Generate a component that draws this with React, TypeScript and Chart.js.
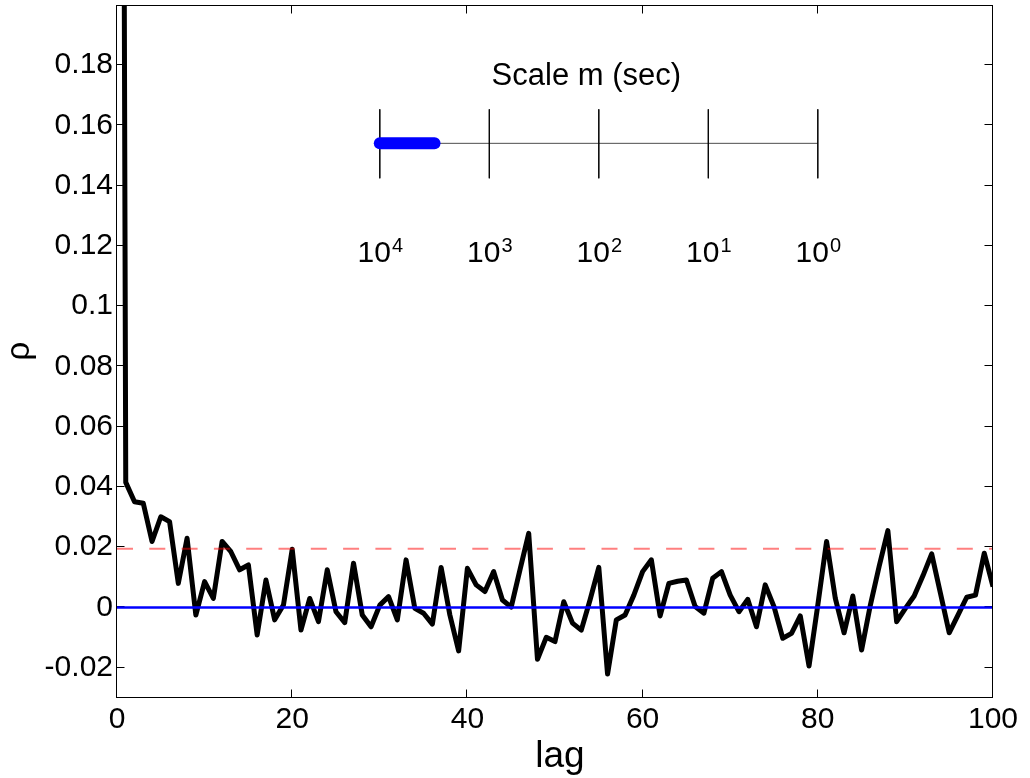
import React, { useEffect, useRef } from "react";
import { Chart, registerables } from "chart.js";

Chart.register(...registerables);

// ---------------- data ----------------
const lags = [
  0, 1, 2, 3, 4, 5, 6, 7, 8, 9, 10, 11, 12, 13, 14, 15, 16, 17, 18, 19, 20,
  21, 22, 23, 24, 25, 26, 27, 28, 29, 30, 31, 32, 33, 34, 35, 36, 37, 38, 39, 40,
  41, 42, 43, 44, 45, 46, 47, 48, 49, 50, 51, 52, 53, 54, 55, 56, 57, 58, 59, 60,
  61, 62, 63, 64, 65, 66, 67, 68, 69, 70, 71, 72, 73, 74, 75, 76, 77, 78, 79, 80,
  81, 82, 83, 84, 85, 86, 87, 88, 89, 90, 91, 92, 93, 94, 95, 96, 97, 98, 99, 100,
];

const rho = [
  1.0, 0.0415, 0.0351, 0.0346, 0.0219, 0.0301, 0.0285, 0.008, 0.023, -0.0025, 0.0086,
  0.003, 0.0219, 0.0185, 0.0125, 0.0141, -0.0091, 0.0091, -0.0041, 0.0008, 0.0193,
  -0.0075, 0.003, -0.0047, 0.0125, -0.0014, -0.005, 0.0147, -0.0025, -0.0064, 0.0008,
  0.0036, -0.0041, 0.0158, -0.0003, -0.0019, -0.0055, 0.0133, -0.0025, -0.0144, 0.013,
  0.0075, 0.0053, 0.0119, 0.0025, 0.0001, 0.0125, 0.0246, -0.0172, -0.0099, -0.0113,
  0.0019, -0.0052, -0.0075, 0.0025, 0.0133, -0.0221, -0.0041, -0.0025, 0.0041, 0.0119,
  0.0158, -0.0028, 0.008, 0.0087, 0.0091, 0.0003, -0.0019, 0.0097, 0.0119, 0.0041,
  -0.0014, 0.0027, -0.0064, 0.0075, 0.0003, -0.0102, -0.0086, -0.0028, -0.0194, 0.0008,
  0.0219, 0.003, -0.0084, 0.0038, -0.0141, 0.0008, 0.0136, 0.0255, -0.0047, -0.0003,
  0.0038, 0.0105, 0.0178, 0.0047, -0.0084, -0.0025, 0.0034, 0.0041, 0.018, 0.0069,
];

const confidenceBound = 0.0195;
const zeroLevel = 0;

const xRange = [0, 100];
const yRange = [-0.0297, 0.1999];
const xTickStep = 20;
const yTickStep = 0.02;

// inset: time scale m (seconds), decades shown and highlighted span
const insetDecades = [4, 3, 2, 1, 0];
const insetHighlight = [10000, 3162];
const insetTitle = "Scale m (sec)";
const insetTitleAt = 130;

const xTitle = "lag";
const yTitle = "ρ";

// ---------------- layout / style ----------------
const W = 1030;
const H = 778;
const FONT = '"Liberation Sans", Arial, Helvetica, sans-serif';
const INSET_LINE_Y = 0.154;
const INSET_TICK_TOP = 0.1653;
const INSET_TICK_BOTTOM = 0.1424;
const INSET_LABEL_Y = 0.1145;
const INSET_TITLE_Y = 0.1734;
// hidden log scale for the inset so that 1e4 s sits at lag 30 and 1 s at lag 80
const M_MIN = Math.pow(10, -1.6);
const M_MAX = Math.pow(10, 6.4);

const framePlugin = {
  id: "matlabFrame",
  beforeDatasetsDraw(chart: any) {
    const { ctx } = chart;
    const xs = chart.scales.x;
    const ys = chart.scales.y;
    const L = 116.5, R = 992.5, T = 5.5, B = 697.5;
    ctx.save();
    ctx.strokeStyle = "#000";
    ctx.lineWidth = 1;
    ctx.beginPath();
    xs.ticks.forEach((t: any) => {
      const px = Math.round(xs.getPixelForValue(t.value)) - 0.5;
      ctx.moveTo(px, B);
      ctx.lineTo(px, B - 8);
      ctx.moveTo(px, T);
      ctx.lineTo(px, T + 8);
    });
    ys.ticks.forEach((t: any) => {
      const py = Math.round(ys.getPixelForValue(t.value)) - 0.5;
      ctx.moveTo(L, py);
      ctx.lineTo(L + 8, py);
      ctx.moveTo(R, py);
      ctx.lineTo(R - 8, py);
    });
    ctx.stroke();
    ctx.restore();
  },
  afterDatasetsDraw(chart: any) {
    const { ctx, chartArea } = chart;
    const ys = chart.scales.y;
    const ms = chart.scales.m;
    const L = 116.5, R = 992.5, T = 5.5, B = 697.5;
    ctx.save();
    // axes box
    ctx.strokeStyle = "#000";
    ctx.lineWidth = 1;
    ctx.strokeRect(L, T, R - L, B - T);

    ctx.fillStyle = "#000";
    // inset tick labels 10^k
    const baseY = ys.getPixelForValue(INSET_LABEL_Y);
    insetDecades.forEach((d) => {
      const cx = ms.getPixelForValue(Math.pow(10, d));
      ctx.font = `30px ${FONT}`;
      const wBase = ctx.measureText("10").width;
      ctx.font = `20px ${FONT}`;
      const sup = String(d);
      const wSup = ctx.measureText(sup).width;
      const x0 = cx - (wBase + wSup) / 2;
      ctx.textAlign = "left";
      ctx.textBaseline = "alphabetic";
      ctx.font = `30px ${FONT}`;
      ctx.fillText("10", x0, baseY);
      ctx.font = `20px ${FONT}`;
      ctx.fillText(sup, x0 + wBase + 1, baseY - 10);
    });
    // inset title
    ctx.font = `31px ${FONT}`;
    ctx.textAlign = "center";
    ctx.textBaseline = "alphabetic";
    ctx.fillText(insetTitle, ms.getPixelForValue(insetTitleAt), ys.getPixelForValue(INSET_TITLE_Y));

    // axis titles
    ctx.font = `37px ${FONT}`;
    ctx.textAlign = "center";
    ctx.fillText(xTitle, (chartArea.left + chartArea.right) / 2 + 5, chartArea.bottom + 70);
    ctx.save();
    ctx.translate(29, (chartArea.top + chartArea.bottom) / 2);
    ctx.rotate(-Math.PI / 2);
    ctx.font = `33px ${FONT}`;
    ctx.textAlign = "center";
    ctx.textBaseline = "alphabetic";
    ctx.fillText(yTitle, 0, 0);
    ctx.restore();
    ctx.restore();
  },
};

export default function App() {
  const canvasRef = useRef<HTMLCanvasElement | null>(null);

  useEffect(() => {
    const canvas = canvasRef.current;
    if (!canvas) return;

    const insetTicks = insetDecades.flatMap((d) => [
      { x: Math.pow(10, d), y: INSET_TICK_TOP },
      { x: Math.pow(10, d), y: INSET_TICK_BOTTOM },
      { x: Math.pow(10, d), y: null },
    ]);

    const chart = new Chart(canvas, {
      type: "line",
      data: {
        datasets: [
          {
            label: "bound",
            data: [
              { x: xRange[0], y: confidenceBound },
              { x: xRange[1], y: confidenceBound },
            ],
            borderColor: "rgba(255,0,0,0.5)",
            borderWidth: 2,
            borderDash: [16, 16.3],
            pointRadius: 0,
            clip: 0,
          },
          {
            label: "zero",
            data: [
              { x: xRange[0], y: zeroLevel },
              { x: xRange[1], y: zeroLevel },
            ],
            borderColor: "#0000ff",
            borderWidth: 2.5,
            pointRadius: 0,
            clip: 0,
          },
          {
            label: "rho",
            data: lags.map((l, i) => ({ x: l, y: rho[i] })),
            borderColor: "#000",
            borderWidth: 5,
            borderJoinStyle: "round",
            pointRadius: 0,
            tension: 0,
            clip: 0,
          },
          {
            label: "inset highlight",
            xAxisID: "m",
            data: insetHighlight.map((m) => ({ x: m, y: INSET_LINE_Y })),
            borderColor: "#0000ff",
            borderWidth: 12,
            borderCapStyle: "round",
            pointRadius: 0,
            clip: false,
          },
          {
            label: "inset ticks",
            xAxisID: "m",
            data: insetTicks,
            borderColor: "rgba(0,0,0,0.85)",
            borderWidth: 1,
            pointRadius: 0,
            spanGaps: false,
            clip: false,
          },
          {
            label: "inset axis",
            xAxisID: "m",
            data: [
              { x: Math.pow(10, insetDecades[0]), y: INSET_LINE_Y },
              { x: Math.pow(10, insetDecades[insetDecades.length - 1]), y: INSET_LINE_Y },
            ],
            borderColor: "rgba(0,0,0,0.7)",
            borderWidth: 1,
            pointRadius: 0,
            clip: false,
          },
        ] as any,
      },
      options: {
        animation: false,
        responsive: false,
        maintainAspectRatio: false,
        devicePixelRatio: 1,
        events: [],
        layout: { padding: { top: 5, right: 37, left: 0, bottom: 0 } },
        plugins: {
          legend: { display: false },
          tooltip: { enabled: false },
          title: { display: false },
        },
        scales: {
          x: {
            type: "linear",
            position: "bottom",
            min: xRange[0],
            max: xRange[1],
            grid: { display: false, drawTicks: false },
            border: { display: false },
            ticks: {
              stepSize: xTickStep,
              autoSkip: false,
              maxRotation: 0,
              padding: 5,
              color: "#000",
              font: { family: FONT, size: 30 },
            },
            afterFit: (s: any) => {
              s.height = 81;
              s.paddingLeft = 0;
              s.paddingRight = 0;
            },
          },
          m: {
            type: "logarithmic",
            axis: "x",
            position: "bottom",
            display: false,
            reverse: true,
            min: M_MIN,
            max: M_MAX,
          },
          y: {
            type: "linear",
            min: yRange[0],
            max: yRange[1],
            grid: { display: false, drawTicks: false },
            border: { display: false },
            ticks: {
              stepSize: yTickStep,
              includeBounds: false,
              autoSkip: false,
              padding: 4,
              color: "#000",
              font: { family: FONT, size: 30 },
              callback: (v: any) => String(parseFloat(Number(v).toFixed(4))),
            },
            afterFit: (s: any) => {
              s.width = 117;
              s.paddingTop = 0;
              s.paddingBottom = 0;
            },
          },
        } as any,
      },
      plugins: [framePlugin],
    });

    return () => chart.destroy();
  }, []);

  return (
    <div style={{ position: "absolute", left: 0, top: 0, width: W, height: H, background: "#fff" }}>
      <canvas ref={canvasRef} width={W} height={H} style={{ display: "block", width: W, height: H }} />
    </div>
  );
}
